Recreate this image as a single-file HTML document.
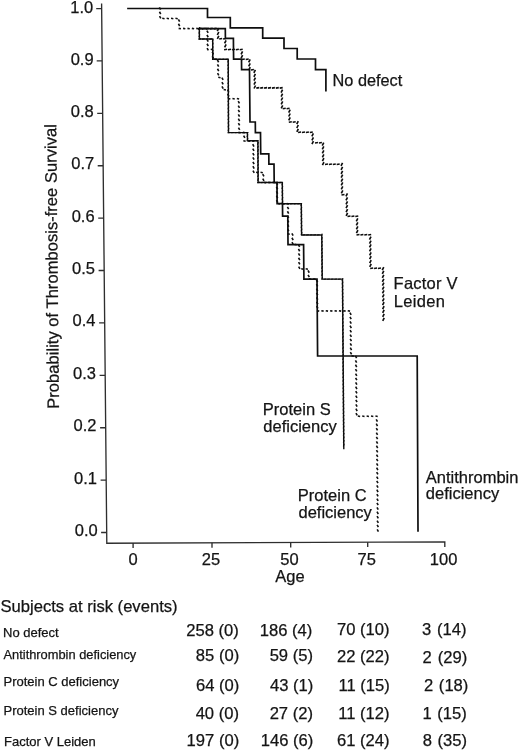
<!DOCTYPE html>
<html><head><meta charset="utf-8"><style>
html,body{margin:0;padding:0;background:#fff;width:520px;height:751px;overflow:hidden}
svg{display:block}
text{font-family:"Liberation Sans",sans-serif;fill:#141414;stroke:#141414;stroke-width:0.25px}
svg{filter:grayscale(1)}
</style></head><body>
<svg width="520" height="751" viewBox="0 0 520 751">
<!-- axes -->
<g stroke="#2e2e2e" stroke-width="1.35" fill="none">
<polyline points="101.6,3.5 106.8,543.2 444.8,541.9 444.8,547"/>
<path d="M96.2,8.6H101.6 M96.7,60.9H102.1 M97.2,113.3H102.6 M97.7,165.7H103.1 M98.2,218.1H103.6 M98.6,270.5H104 M99.1,322.9H104.5 M99.6,375.3H105 M100.1,427.7H105.5 M100.6,480.1H106 M101.1,532.5H106.6"/>
<path d="M133.1,543.1V548 M212,542.8V547.7 M290.7,542.5V547.4 M367.7,542.2V547.1"/>
</g>
<g font-size="16.5" text-anchor="end">
<text x="93.2" y="12.7">1.0</text>
<text x="93.6" y="64.5">0.9</text>
<text x="93.8" y="116.8">0.8</text>
<text x="94.2" y="169.2">0.7</text>
<text x="94.6" y="221.6">0.6</text>
<text x="95.0" y="274">0.5</text>
<text x="95.5" y="326.4">0.4</text>
<text x="96.0" y="378.8">0.3</text>
<text x="96.5" y="431.2">0.2</text>
<text x="97.0" y="483.6">0.1</text>
<text x="97.8" y="536.4">0.0</text>
</g>
<g font-size="16.5" text-anchor="middle">
<text x="133" y="565">0</text>
<text x="211" y="565">25</text>
<text x="289.4" y="565">50</text>
<text x="366.8" y="565">75</text>
<text x="443.6" y="565">100</text>
<text x="290" y="581.5">Age</text>
</g>
<text font-size="16.6" transform="translate(57.6,266.4) rotate(-90.57)" text-anchor="middle">Probability of Thrombosis-free Survival</text>
<!-- curve labels -->
<g font-size="16.5">
<text x="332.6" y="85.8" font-size="16.3">No defect</text>
<text x="393.6" y="288.8" letter-spacing="0.22">Factor V</text>
<text x="393.8" y="306.5" letter-spacing="0.3">Leiden</text>
<text x="262.8" y="414.6">Protein S</text>
<text x="263.3" y="431.9">deficiency</text>
<text x="297.8" y="501.2">Protein C</text>
<text x="298.5" y="517.8">deficiency</text>
<text x="425.8" y="482.6">Antithrombin</text>
<text x="425.8" y="499.1">deficiency</text>
</g>
<!-- table -->
<text font-size="16.6" x="0.5" y="612">Subjects at risk (events)</text>
<g font-size="13">
<text x="3" y="636.6">No defect</text>
<text x="3.5" y="659.4" font-size="12.85">Antithrombin deficiency</text>
<text x="3.5" y="686.3">Protein C deficiency</text>
<text x="3.5" y="715">Protein S deficiency</text>
<text x="4" y="745.8">Factor V Leiden</text>
</g>
<g font-size="16.6" text-anchor="end">
<text x="238.8" y="636">258 (0)</text>
<text x="239.2" y="661.4">85 (0)</text>
<text x="239.3" y="691.3">64 (0)</text>
<text x="239" y="718.7">40 (0)</text>
<text x="239.2" y="746.3">197 (0)</text>
<text x="312.3" y="635.6">186 (4)</text>
<text x="313" y="661.2">59 (5)</text>
<text x="313.3" y="691.4">43 (1)</text>
<text x="313" y="718.7">27 (2)</text>
<text x="313.3" y="746.3">146 (6)</text>
<text x="389.6" y="635.3">70 (10)</text>
<text x="389.6" y="662.3">22 (22)</text>
<text x="389.8" y="691.4">11 (15)</text>
<text x="389.5" y="718.5">11 (12)</text>
<text x="389.5" y="746.3">61 (24)</text>
<text x="466.6" y="635.3" word-spacing="1.3">3 (14)</text>
<text x="467.2" y="662.5" word-spacing="1.3">2 (29)</text>
<text x="468.4" y="691.3" word-spacing="1">2 (18)</text>
<text x="466.8" y="718.5" word-spacing="1">1 (15)</text>
<text x="467" y="746.2" word-spacing="1">8 (35)</text>
</g>
<!-- curves -->

<polyline points="128.0,8.5 207.5,8.5 207.5,17.5 230.3,17.5 230.3,27.8 262.7,27.8 262.7,38.1 284.0,38.1 284.0,48.5 297.2,48.5 297.2,59.0 315.5,59.0 315.5,69.6 325.9,69.6 325.9,90.6" fill="none" stroke="#0e0e0e" stroke-width="1.7" stroke-linejoin="miter" stroke-linecap="square"/>
<path d="M198.00,28.86L201.00,28.34M201.90,28.86L204.90,28.34M205.80,28.86L208.80,28.34M209.70,28.86L212.70,28.34M213.60,28.86L216.60,28.34M217.26,31.10L218.76,28.10M217.30,35.00L218.80,32.00M217.34,38.90L218.84,35.90M219.20,38.96L222.20,38.44M223.10,38.96L226.10,38.44M224.58,43.40L226.08,40.40M224.62,47.30L226.12,44.30M224.10,49.76L227.10,49.24M228.00,49.76L231.00,49.24M231.90,49.76L234.90,49.24M235.80,49.76L238.80,49.24M239.70,49.76L242.70,49.24M241.08,54.30L242.58,51.30M241.12,58.20L242.62,55.20M241.80,59.46L244.80,58.94M245.70,59.46L248.70,58.94M248.67,62.40L250.17,59.40M248.70,66.30L250.20,63.30M248.74,70.20L250.24,67.20M250.90,69.96L253.90,69.44M253.87,72.90L255.37,69.90M253.91,76.80L255.41,73.80M253.95,80.70L255.45,77.70M254.00,84.60L255.50,81.60M254.04,88.50L255.54,85.50M256.30,88.16L259.30,87.64M260.20,88.16L263.20,87.64M264.10,88.16L267.10,87.64M268.00,88.16L271.00,87.64M271.90,88.16L274.90,87.64M275.80,88.16L278.80,87.64M279.70,88.16L282.70,87.64M281.08,92.70L282.58,89.70M281.12,96.60L282.62,93.60M281.16,100.50L282.66,97.50M281.20,104.40L282.70,101.40M281.23,108.30L282.73,105.30M282.70,108.76L285.70,108.24M286.60,108.76L289.60,108.24M288.67,112.60L290.17,109.60M288.70,116.50L290.20,113.50M288.73,120.40L290.23,117.40M288.80,122.26L291.80,121.74M292.70,122.26L295.70,121.74M296.76,124.10L298.26,121.10M296.79,128.00L298.29,125.00M296.83,131.90L298.33,128.90M298.10,132.56L301.10,132.04M302.00,132.56L305.00,132.04M305.90,132.56L308.90,132.04M309.80,132.56L312.80,132.04M311.87,136.40L313.37,133.40M311.91,140.29L313.41,137.29M311.95,144.19L313.45,141.19M314.99,143.06L317.99,142.54M318.89,143.06L321.89,142.54M322.26,145.59L323.76,142.59M322.30,149.49L323.80,146.49M322.33,153.39L323.83,150.39M322.37,157.29L323.87,154.29M322.41,161.19L323.91,158.19M322.44,165.09L323.94,162.09M324.99,164.46L327.99,163.94M328.89,164.46L331.89,163.94M332.79,164.46L335.79,163.94M336.69,164.46L339.69,163.94M341.05,165.99L342.55,162.99M341.09,169.89L342.59,166.89M341.13,173.79L342.63,170.79M341.17,177.69L342.67,174.69M341.21,181.59L342.71,178.59M341.24,185.49L342.74,182.49M341.28,189.39L342.78,186.39M341.32,193.29L342.82,190.29M341.49,195.06L344.49,194.54M345.95,196.49L347.45,193.49M345.99,200.39L347.49,197.39M346.02,204.29L347.52,201.29M346.06,208.19L347.56,205.19M346.10,212.09L347.60,209.09M346.13,215.99L347.63,212.99M347.49,216.56L350.49,216.04M351.39,216.56L354.39,216.04M355.29,216.56L358.29,216.04M356.29,221.49L357.79,218.49M356.33,225.39L357.83,222.39M356.37,229.29L357.87,226.29M356.42,233.19L357.92,230.19M356.49,235.06L359.49,234.54M360.39,235.06L363.39,234.54M364.29,235.06L367.29,234.54M368.19,235.06L371.19,234.54M369.48,239.69L370.98,236.69M369.52,243.59L371.02,240.59M369.55,247.49L371.05,244.49M369.59,251.39L371.09,248.39M369.62,255.29L371.12,252.29M369.66,259.19L371.16,256.19M369.69,263.09L371.19,260.09M369.73,266.99L371.23,263.99M370.19,268.46L373.19,267.94M374.09,268.46L377.09,267.94M377.99,268.46L380.99,267.94M382.25,270.09L383.75,267.09M382.29,273.99L383.79,270.99M382.33,277.89L383.83,274.89M382.36,281.79L383.86,278.79M382.40,285.69L383.90,282.69M382.43,289.59L383.93,286.59M382.47,293.49L383.97,290.49M382.51,297.39L384.01,294.39M382.54,301.29L384.04,298.29M382.58,305.19L384.08,302.19M382.61,309.09L384.11,306.09M382.65,312.99L384.15,309.99M382.69,316.89L384.19,313.89M382.72,320.79L384.22,317.79" stroke="#0e0e0e" stroke-width="1.65" stroke-linecap="butt" fill="none"/>
<path d="M160.63,9.65L159.37,7.35M160.72,14.05L159.46,11.75M160.81,18.45L159.54,16.15M162.25,18.28L164.55,18.72M166.65,18.28L168.95,18.72M171.05,18.28L173.35,18.72M175.45,18.28L177.75,18.72M179.65,21.65L178.39,19.35M179.70,26.05L178.43,23.75M178.65,28.38L180.95,28.82M183.05,28.38L185.35,28.82M187.45,28.38L189.75,28.82M191.85,28.38L194.15,28.82M196.25,28.38L198.55,28.82M200.65,28.38L202.95,28.82M205.05,28.38L207.35,28.82M208.16,32.85L206.90,30.55M208.20,37.25L206.94,34.95M208.25,41.65L206.98,39.35M208.29,46.05L207.02,43.75M208.33,50.45L207.07,48.15M210.75,49.28L213.05,49.72M213.47,54.15L212.20,51.85M213.51,58.55L212.25,56.25M214.25,59.08L216.55,59.52M218.65,62.25L217.39,59.95M218.70,66.65L217.44,64.35M218.75,71.05L217.48,68.75M218.80,75.45L217.53,73.15M218.24,77.28L220.54,77.72M223.14,79.94L221.88,77.64M223.18,84.34L221.91,82.04M223.21,88.74L221.95,86.44M223.64,89.58L225.94,90.02M228.84,91.94L227.58,89.64M228.89,96.34L227.63,94.04M228.04,98.48L230.34,98.92M232.44,98.48L234.74,98.92M236.84,98.48L239.14,98.92M239.46,103.44L238.20,101.14M239.50,107.84L238.24,105.54M239.54,112.24L238.28,109.94M239.58,116.64L238.32,114.34M239.62,121.04L238.36,118.74M239.66,125.44L238.39,123.14M239.70,129.84L238.43,127.54M238.44,132.38L240.74,132.82M242.84,132.38L245.14,132.82M244.88,137.94L243.62,135.64M243.34,140.78L245.64,141.22M247.74,140.78L250.04,141.22M252.14,140.78L254.44,141.22M253.97,146.54L252.71,144.24M254.02,150.94L252.75,148.64M254.06,155.34L252.79,153.04M254.10,159.74L252.84,157.44M254.14,164.14L252.88,161.84M254.18,168.54L252.92,166.24M254.23,172.94L252.96,170.64M256.14,172.28L258.44,172.72M260.54,172.28L262.84,172.72M263.96,176.44L262.70,174.14M264.00,180.84L262.74,178.54M263.84,182.28L266.14,182.72M268.24,182.28L270.54,182.72M272.64,182.28L274.94,182.72M277.64,184.84L276.37,182.54M277.66,189.24L276.39,186.94M277.68,193.64L276.41,191.34M277.70,198.04L276.44,195.74M277.72,202.44L276.46,200.14M277.94,203.48L280.24,203.92M282.34,203.48L284.64,203.92M286.74,203.48L289.04,203.92M288.66,209.14L287.40,206.84M288.69,213.54L287.42,211.24M288.72,217.94L287.45,215.64M288.75,222.34L287.48,220.04M288.78,226.74L287.51,224.44M288.81,231.14L287.54,228.84M287.44,233.78L289.74,234.22M293.14,235.64L291.87,233.34M293.18,240.04L291.91,237.74M293.22,244.44L291.96,242.14M294.54,244.38L296.84,244.82M299.65,246.84L298.38,244.54M299.70,251.24L298.43,248.94M299.75,255.64L298.49,253.34M299.81,260.04L298.54,257.74M299.86,264.44L298.60,262.14M299.92,268.84L298.65,266.54M301.24,268.78L303.54,269.22M305.64,268.78L307.94,269.22M309.26,272.74L307.99,270.44M309.30,277.14L308.04,274.84M308.84,278.88L311.14,279.32M313.24,278.88L315.54,279.32M317.65,282.04L316.38,279.74M317.69,286.44L316.43,284.14M317.73,290.84L316.47,288.54M317.77,295.24L316.51,292.94M317.82,299.64L316.55,297.34M317.86,304.04L316.59,301.74M317.90,308.44L316.63,306.14M316.93,310.68L319.23,311.12M321.33,310.68L323.63,311.12M325.73,310.68L328.03,311.12M330.13,310.68L332.43,311.12M334.53,310.68L336.83,311.12M338.93,310.68L341.23,311.12M343.33,310.68L345.63,311.12M347.73,310.68L350.03,311.12M351.16,314.83L349.90,312.53M351.21,319.23L349.95,316.93M351.26,323.63L350.00,321.33M351.31,328.03L350.04,325.73M351.36,332.43L350.09,330.13M351.41,336.83L350.14,334.53M351.46,341.23L350.19,338.93M351.50,345.63L350.24,343.33M351.55,350.03L350.29,347.73M351.60,354.43L350.34,352.13M351.53,355.78L353.83,356.22M356.64,358.23L355.38,355.93M356.69,362.63L355.42,360.33M356.73,367.03L355.47,364.73M356.77,371.43L355.51,369.13M356.82,375.83L355.55,373.53M356.86,380.23L355.60,377.93M356.91,384.63L355.64,382.33M356.95,389.03L355.68,386.73M356.99,393.43L355.73,391.13M357.04,397.83L355.77,395.53M357.08,402.23L355.82,399.93M357.12,406.63L355.86,404.33M357.17,411.03L355.90,408.73M357.21,415.43L355.95,413.13M357.83,416.08L360.13,416.52M362.23,416.08L364.53,416.52M366.63,416.08L368.93,416.52M371.03,416.08L373.33,416.52M375.43,416.08L377.73,416.52M377.47,421.63L376.20,419.33M377.51,426.03L376.24,423.73M377.55,430.43L376.28,428.13M377.58,434.83L376.32,432.53M377.62,439.23L376.36,436.93M377.66,443.63L376.40,441.33M377.70,448.03L376.43,445.73M377.74,452.43L376.47,450.13M377.78,456.83L376.51,454.53M377.81,461.23L376.55,458.93M377.85,465.63L376.59,463.33M377.89,470.03L376.63,467.73M377.93,474.43L376.67,472.13M377.97,478.83L376.70,476.53M378.01,483.23L376.74,480.93M378.05,487.63L376.78,485.33M378.08,492.03L376.82,489.73M378.12,496.43L376.86,494.13M378.16,500.83L376.90,498.53M378.20,505.23L376.93,502.93M378.24,509.63L376.97,507.33M378.28,514.03L377.01,511.73M378.31,518.43L377.05,516.13M378.35,522.83L377.09,520.53M378.39,527.23L377.13,524.93M378.43,531.62L377.16,529.32" stroke="#111" stroke-width="1.6" stroke-linecap="butt" fill="none"/>
<polyline points="199.3,28.6 225.3,28.6 225.4,38.4 233.4,38.4 233.6,59.1 241.5,59.1 241.6,69.7 249.5,69.7 250.0,122.0 255.3,122.0 255.4,132.6 260.5,132.6 260.7,153.8 268.8,153.8 268.9,164.2 274.0,164.2 274.2,182.5 277.0,182.5 277.1,203.7 282.5,203.7 282.6,216.2 287.8,216.2 288.0,244.6 303.6,244.6 303.9,279.1 317.0,279.1 317.6,356.0 417.2,356.0 418.0,530.8" fill="none" stroke="#0e0e0e" stroke-width="1.7" stroke-linejoin="miter" stroke-linecap="square"/>
<polyline points="199.3,28.6 199.4,39.0 212.7,39.0 212.8,59.3 228.2,59.3 228.5,132.6 247.4,132.6 247.5,140.8 257.9,140.8 258.1,182.5 282.3,182.5 282.5,203.7 301.3,203.7 301.6,234.9 321.8,234.9 322.2,279.1 342.5,279.1 343.8,448.6" fill="none" stroke="#161616" stroke-width="1.45" stroke-linejoin="miter" stroke-linecap="square"/>
<path d="M198.88,30.00L199.72,27.20M198.91,33.60L199.75,30.80M198.95,37.20L199.79,34.40M198.40,39.15L201.20,38.85M202.00,39.15L204.80,38.85M205.60,39.15L208.40,38.85M209.20,39.15L212.00,38.85M212.29,41.90L213.13,39.10M212.31,45.50L213.15,42.70M212.32,49.10L213.16,46.30M212.34,52.70L213.18,49.90M212.36,56.30L213.20,53.50M212.38,59.90L213.22,57.10M214.20,59.45L217.00,59.15M217.80,59.45L220.60,59.15M221.40,59.45L224.20,59.15M225.00,59.45L227.80,59.15M227.79,62.50L228.63,59.70M227.80,66.10L228.64,63.30M227.82,69.70L228.66,66.90M227.83,73.30L228.67,70.50M227.85,76.90L228.69,74.10M227.86,80.50L228.70,77.70M227.88,84.10L228.72,81.30M227.89,87.70L228.73,84.90M227.91,91.30L228.75,88.50M227.92,94.90L228.76,92.10M227.93,98.50L228.77,95.70M227.95,102.10L228.79,99.30M227.96,105.70L228.80,102.90M227.98,109.30L228.82,106.50M227.99,112.90L228.83,110.10M228.01,116.50L228.85,113.70M228.02,120.10L228.86,117.30M228.04,123.70L228.88,120.90M228.05,127.30L228.89,124.50M228.07,130.90L228.91,128.10M227.60,132.75L230.40,132.45M231.20,132.75L234.00,132.45M234.80,132.75L237.60,132.45M238.40,132.75L241.20,132.45M242.00,132.75L244.80,132.45M245.60,132.75L248.40,132.45M247.02,137.20L247.86,134.40M247.06,140.80L247.90,138.00M248.30,140.95L251.10,140.65M251.90,140.95L254.70,140.65M255.50,140.95L258.30,140.65M257.49,144.80L258.33,142.00M257.51,148.40L258.35,145.60M257.53,152.00L258.37,149.20M257.54,155.60L258.38,152.80M257.56,159.20L258.40,156.40M257.58,162.80L258.42,160.00M257.60,166.40L258.44,163.60M257.61,170.00L258.45,167.20M257.63,173.60L258.47,170.80M257.65,177.20L258.49,174.40M257.67,180.80L258.51,178.00M257.20,182.65L260.00,182.35M260.80,182.65L263.60,182.35M264.40,182.65L267.20,182.35M268.00,182.65L270.80,182.35M271.60,182.65L274.40,182.35M275.20,182.65L278.00,182.35M278.80,182.65L281.60,182.35M281.89,185.40L282.73,182.60M281.93,189.00L282.77,186.20M281.96,192.60L282.80,189.80M282.00,196.20L282.84,193.40M282.03,199.80L282.87,197.00M282.06,203.40L282.90,200.60M283.00,203.85L285.80,203.55M286.60,203.85L289.40,203.55M290.20,203.85L293.00,203.55M293.80,203.85L296.60,203.55M297.40,203.85L300.20,203.55M300.89,206.20L301.73,203.40M300.93,209.80L301.77,207.00M300.96,213.40L301.80,210.60M300.99,217.00L301.83,214.20M301.03,220.60L301.87,217.80M301.06,224.20L301.90,221.40M301.10,227.80L301.94,225.00M301.13,231.40L301.97,228.60M301.17,235.00L302.01,232.20M302.50,235.05L305.30,234.75M306.10,235.05L308.90,234.75M309.70,235.05L312.50,234.75M313.30,235.05L316.10,234.75M316.90,235.05L319.70,234.75M321.38,236.40L322.22,233.60M321.41,240.00L322.25,237.20M321.45,243.59L322.29,240.79M321.48,247.19L322.32,244.39M321.51,250.79L322.35,247.99M321.54,254.39L322.38,251.59M321.58,257.99L322.42,255.19M321.61,261.59L322.45,258.79M321.64,265.19L322.48,262.39M321.67,268.79L322.51,265.99M321.71,272.39L322.55,269.59M321.74,275.99L322.58,273.19M321.77,279.59L322.61,276.79M323.49,279.25L326.29,278.95M327.09,279.25L329.89,278.95M330.69,279.25L333.49,278.95M334.29,279.25L337.09,278.95M337.89,279.25L340.69,278.95M342.08,280.89L342.92,278.09M342.11,284.49L342.95,281.69M342.14,288.09L342.98,285.29M342.17,291.69L343.01,288.89M342.19,295.29L343.03,292.49M342.22,298.89L343.06,296.09M342.25,302.49L343.09,299.69M342.28,306.09L343.12,303.29M342.30,309.69L343.14,306.89M342.33,313.29L343.17,310.49M342.36,316.89L343.20,314.09M342.39,320.49L343.23,317.69M342.41,324.09L343.25,321.29M342.44,327.69L343.28,324.89M342.47,331.29L343.31,328.49M342.50,334.89L343.34,332.09M342.52,338.49L343.36,335.69M342.55,342.09L343.39,339.29M342.58,345.69L343.42,342.89M342.61,349.29L343.45,346.49M342.64,352.89L343.48,350.09M342.66,356.49L343.50,353.69M342.69,360.09L343.53,357.29M342.72,363.69L343.56,360.89M342.75,367.29L343.59,364.49M342.77,370.89L343.61,368.09M342.80,374.49L343.64,371.69M342.83,378.09L343.67,375.29M342.86,381.69L343.70,378.89M342.88,385.29L343.72,382.49M342.91,388.89L343.75,386.09M342.94,392.49L343.78,389.69M342.97,396.09L343.81,393.29M342.99,399.69L343.83,396.89M343.02,403.29L343.86,400.49M343.05,406.89L343.89,404.09M343.08,410.49L343.92,407.69M343.10,414.09L343.94,411.29M343.13,417.69L343.97,414.89M343.16,421.29L344.00,418.49M343.19,424.89L344.03,422.09M343.22,428.49L344.06,425.69M343.24,432.09L344.08,429.29M343.27,435.69L344.11,432.89M343.30,439.29L344.14,436.49M343.33,442.89L344.17,440.09M343.35,446.49L344.19,443.69" stroke="#0a0a0a" stroke-width="1.1" stroke-linecap="butt" fill="none"/>

</svg>
</body></html>
